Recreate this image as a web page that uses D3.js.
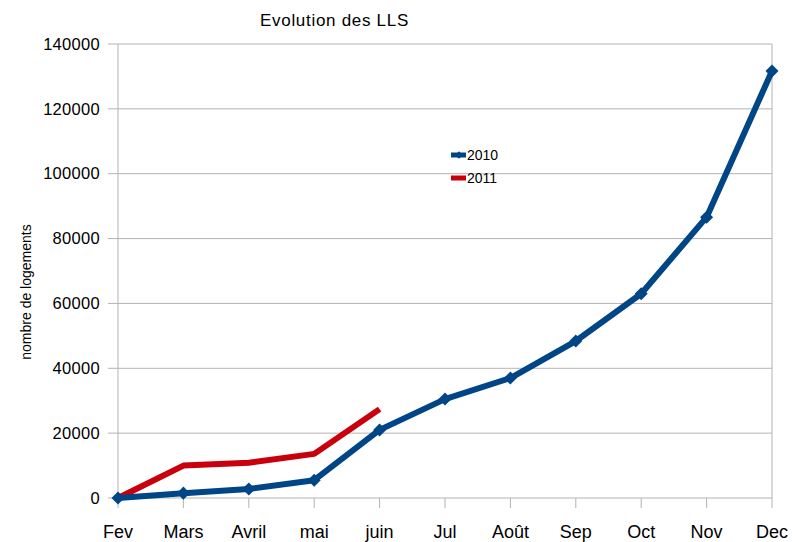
<!DOCTYPE html>
<html>
<head>
<meta charset="utf-8">
<style>
  body { margin: 0; background: #fff; font-family: "Liberation Sans", Arial, sans-serif; }
  .grid line { stroke: #b3b3b3; stroke-width: 1; }
  .grid path { display: none; }
</style>
<script src="https://cdn.jsdelivr.net/npm/d3@7"></script>
</head>
<body>
<script>
var months = ["Fev", "Mars", "Avril", "mai", "juin", "Jul", "Août", "Sep", "Oct", "Nov", "Dec"];
var values2010 = [0, 1500, 2800, 5500, 21000, 30500, 37000, 48400, 63000, 86600, 131700];
var values2011 = [0, 10000, 10900, 13600, 27400];
var yTicks = [0, 20000, 40000, 60000, 80000, 100000, 120000, 140000];

var W = 792, H = 542;
var margin = {top: 44, right: 20, bottom: 44, left: 118};
var width = 772 - margin.left, height = 498 - margin.top;

var svg = d3.select("body").append("svg").attr("width", W).attr("height", H);

var x = d3.scalePoint().domain(months).range([0, width]);
var y = d3.scaleLinear().domain([0, 140000]).range([height, 0]);

var chart = svg.append("g").attr("transform", "translate(" + margin.left + "," + margin.top + ")");

// horizontal grid
chart.append("g").attr("class", "grid")
  .selectAll("line").data(yTicks).enter().append("line")
  .attr("x1", -10).attr("x2", width)
  .attr("y1", function(d) { return y(d); }).attr("y2", function(d) { return y(d); });

// vertical axis lines + x ticks
chart.append("line").attr("x1", 0).attr("x2", 0).attr("y1", 0).attr("y2", height).attr("stroke", "#b3b3b3");
chart.append("line").attr("x1", width).attr("x2", width).attr("y1", 0).attr("y2", height).attr("stroke", "#b3b3b3");
chart.append("g").attr("class", "grid")
  .selectAll("line").data(months).enter().append("line")
  .attr("x1", function(d) { return x(d); }).attr("x2", function(d) { return x(d); })
  .attr("y1", height).attr("y2", height + 10);

// y labels
chart.append("g").selectAll("text").data(yTicks).enter().append("text")
  .attr("x", -18).attr("y", function(d) { return y(d); }).attr("dy", "0.35em")
  .attr("text-anchor", "end").style("font-size", "16.5px").style("letter-spacing", "0.3px").attr("fill", "#000")
  .text(function(d) { return d; });

// x labels
chart.append("g").selectAll("text").data(months).enter().append("text")
  .attr("x", function(d) { return x(d); }).attr("y", height + 40)
  .attr("text-anchor", "middle").style("font-size", "18px").attr("fill", "#000")
  .text(function(d) { return d; });

var line = d3.line()
  .x(function(d, i) { return x(months[i]); })
  .y(function(d) { return y(d); });

chart.append("path").datum(values2011)
  .attr("d", line).attr("fill", "none").attr("stroke", "#c9000b").attr("stroke-width", 6)
  .attr("stroke-linejoin", "round");

chart.append("path").datum(values2010)
  .attr("d", line).attr("fill", "none").attr("stroke", "#004586").attr("stroke-width", 6)
  .attr("stroke-linejoin", "round");

// square diamonds (rotated squares)
var marker = d3.symbol().type(d3.symbolSquare).size(85);
chart.append("g").selectAll("path").data(values2010).enter().append("path")
  .attr("d", marker)
  .attr("transform", function(d, i) { return "translate(" + x(months[i]) + "," + y(d) + ") rotate(45)"; })
  .attr("fill", "#004586");

// title
svg.append("text").attr("x", 260).attr("y", 26).style("font-size", "17px")
  .style("letter-spacing", "0.7px").text("Evolution des LLS");

// y-axis title
svg.append("text").attr("transform", "translate(31,292) rotate(-90)")
  .attr("text-anchor", "middle").style("font-size", "14px").text("nombre de logements");

// legend
var legend = svg.append("g").attr("transform", "translate(451,155)");
var series = ["2010", "2011"];
var colors = ["#004586", "#c9000b"];
series.forEach(function(s, i) {
  var g = legend.append("g").attr("transform", "translate(0," + (i * 23) + ")");
  g.append("line").attr("x1", 0).attr("x2", 15).attr("y1", 0).attr("y2", 0)
    .attr("stroke", colors[i]).attr("stroke-width", 5);
  if (i === 0) g.append("path").attr("d", d3.symbol().type(d3.symbolSquare).size(30)).attr("transform", "translate(8,0) rotate(45)").attr("fill", colors[i]);
  g.append("text").attr("x", 16).attr("y", 0).attr("dy", "0.35em").style("font-size", "14px").text(s);
});
</script>
</body>
</html>
